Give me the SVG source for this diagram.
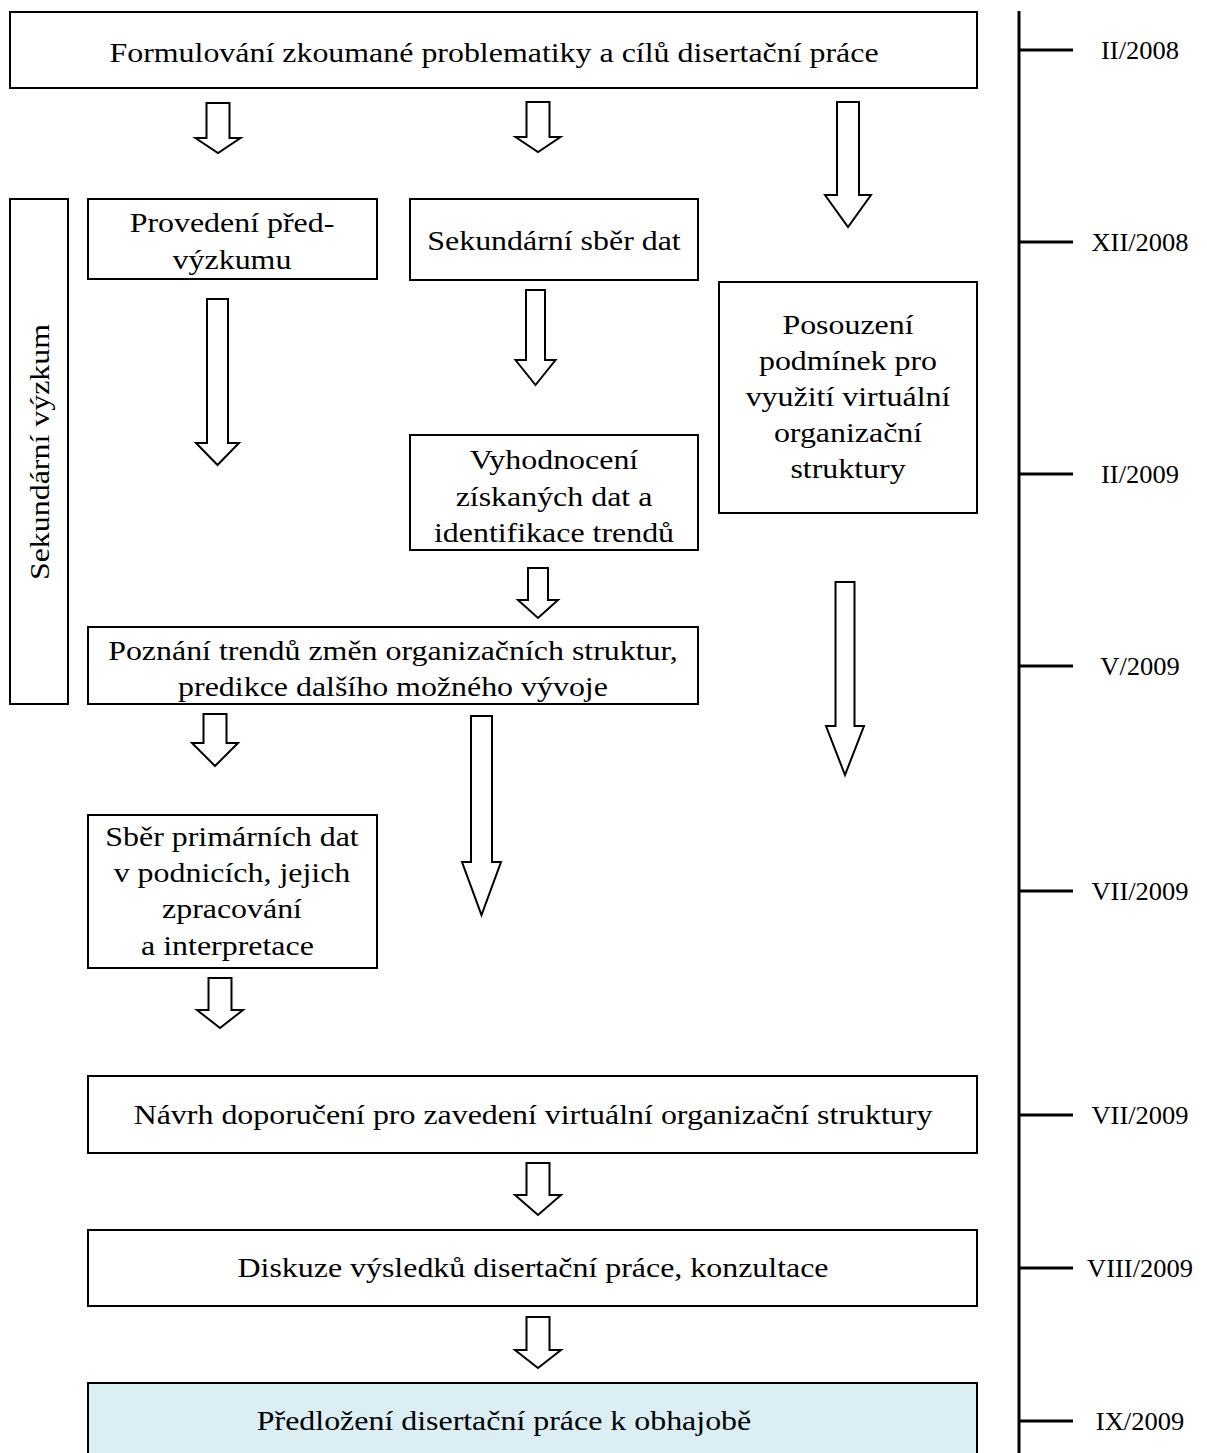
<svg xmlns="http://www.w3.org/2000/svg" width="1207" height="1453" viewBox="0 0 1207 1453">
<style>
.box{fill:#fff;stroke:#000;stroke-width:2}
.hl{fill:#DAEEF3;stroke:#000;stroke-width:2}
.arr{fill:#fff;stroke:#000;stroke-width:2;stroke-linejoin:miter}
.t{font-family:"Liberation Serif","Times New Roman",serif;font-size:28px;fill:#000;text-anchor:middle}
.d{font-family:"Liberation Serif","Times New Roman",serif;font-size:25px;fill:#000;text-anchor:middle}
.tl{stroke:#000;stroke-width:3}
</style>
<rect width="1207" height="1453" fill="#fff"/>
<g id="n-formulovani"><rect class="box" x="10" y="12" width="967" height="76"/><g transform="translate(494,0) scale(1.14,1)"><text class="t" x="0" y="62">Formulování zkoumané problematiky a cílů disertační práce</text></g></g>
<g id="n-sekundarni-vyzkum"><rect class="box" x="10" y="199" width="58" height="505"/><text class="t" transform="translate(49,452) rotate(-90) scale(1.14,1)">Sekundární výzkum</text></g>
<g id="n-provedeni"><rect class="box" x="88" y="199" width="289" height="80"/><g transform="translate(232,0) scale(1.14,1)"><text class="t" x="0" y="232">Provedení před-</text><text class="t" x="0" y="269">výzkumu</text></g></g>
<g id="n-sber-dat"><rect class="box" x="410" y="199" width="288" height="81"/><g transform="translate(554,0) scale(1.14,1)"><text class="t" x="0" y="250">Sekundární sběr dat</text></g></g>
<g id="n-posouzeni"><rect class="box" x="719" y="282" width="258" height="231"/><g transform="translate(848,0) scale(1.14,1)"><text class="t" x="0" y="334">Posouzení</text><text class="t" x="0" y="370">podmínek pro</text><text class="t" x="0" y="406">využití virtuální</text><text class="t" x="0" y="442">organizační</text><text class="t" x="0" y="478">struktury</text></g></g>
<g id="n-vyhodnoceni"><rect class="box" x="410" y="435" width="288" height="115"/><g transform="translate(554,0) scale(1.14,1)"><text class="t" x="0" y="469">Vyhodnocení</text><text class="t" x="0" y="506">získaných dat a</text><text class="t" x="0" y="542">identifikace trendů</text></g></g>
<g id="n-poznani"><rect class="box" x="88" y="627" width="610" height="77"/><g transform="translate(393,0) scale(1.14,1)"><text class="t" x="0" y="660">Poznání trendů změn organizačních struktur,</text><text class="t" x="0" y="696">predikce dalšího možného vývoje</text></g></g>
<g id="n-sber-primarnich"><rect class="box" x="88" y="815" width="289" height="153"/><g transform="translate(232,0) scale(1.14,1)"><text class="t" x="0" y="846">Sběr primárních dat</text><text class="t" x="0" y="882">v podnicích, jejich</text><text class="t" x="0" y="918">zpracování</text><text class="t" x="-4" y="955">a interpretace</text></g></g>
<g id="n-navrh"><rect class="box" x="88" y="1076" width="889" height="77"/><g transform="translate(533,0) scale(1.14,1)"><text class="t" x="0" y="1124">Návrh doporučení pro zavedení virtuální organizační struktury</text></g></g>
<g id="n-diskuze"><rect class="box" x="88" y="1230" width="889" height="76"/><g transform="translate(533,0) scale(1.14,1)"><text class="t" x="0" y="1277">Diskuze výsledků disertační práce, konzultace</text></g></g>
<g id="n-predlozeni"><rect class="hl" x="88" y="1383" width="889" height="80"/><g transform="translate(504,0) scale(1.14,1)"><text class="t" x="0" y="1430">Předložení disertační práce k obhajobě</text></g></g>
<g id="connectors">
<polygon class="arr" points="206.5,103 229.5,103 229.5,138 240.5,138 218,153 195.5,138 206.5,138"/>
<polygon class="arr" points="526.5,102 549.5,102 549.5,137 560.5,137 538,152 515.5,137 526.5,137"/>
<polygon class="arr" points="837,102 859,102 859,195 871,195 848,227 825,195 837,195"/>
<polygon class="arr" points="207,299 228,299 228,443 239,443 217.5,465 196,443 207,443"/>
<polygon class="arr" points="526,290 545,290 545,360 555.5,360 535.5,385 515.5,360 526,360"/>
<polygon class="arr" points="528,568 548,568 548,600 558,600 538,618 518,600 528,600"/>
<polygon class="arr" points="835.5,582 854.5,582 854.5,726 864,726 845,775 826,726 835.5,726"/>
<polygon class="arr" points="203.5,714 226.5,714 226.5,743 238,743 215,766 192,743 203.5,743"/>
<polygon class="arr" points="471,716 492,716 492,862 501,862 481.5,915 462,862 471,862"/>
<polygon class="arr" points="208.5,978 231.5,978 231.5,1010 243,1010 220,1028 197,1010 208.5,1010"/>
<polygon class="arr" points="526.5,1163 549.5,1163 549.5,1195 561,1195 538,1215 515,1195 526.5,1195"/>
<polygon class="arr" points="526.5,1317 549.5,1317 549.5,1350 561,1350 538,1368 515,1350 526.5,1350"/>
</g>
<g id="timeline">
<line class="tl" x1="1019" y1="11" x2="1019" y2="1453"/>
<line class="tl" x1="1019" y1="50" x2="1073" y2="50"/>
<line class="tl" x1="1019" y1="242" x2="1073" y2="242"/>
<line class="tl" x1="1019" y1="474" x2="1073" y2="474"/>
<line class="tl" x1="1019" y1="666" x2="1073" y2="666"/>
<line class="tl" x1="1019" y1="891" x2="1073" y2="891"/>
<line class="tl" x1="1019" y1="1115" x2="1073" y2="1115"/>
<line class="tl" x1="1019" y1="1268" x2="1073" y2="1268"/>
<line class="tl" x1="1019" y1="1421" x2="1073" y2="1421"/>
<g transform="translate(1140,0) scale(1.06,1)">
<text class="d" x="0" y="59">II/2008</text>
<text class="d" x="0" y="251">XII/2008</text>
<text class="d" x="0" y="483">II/2009</text>
<text class="d" x="0" y="675">V/2009</text>
<text class="d" x="0" y="900">VII/2009</text>
<text class="d" x="0" y="1124">VII/2009</text>
<text class="d" x="0" y="1277">VIII/2009</text>
<text class="d" x="0" y="1430">IX/2009</text>
</g>
</g>
</svg>
